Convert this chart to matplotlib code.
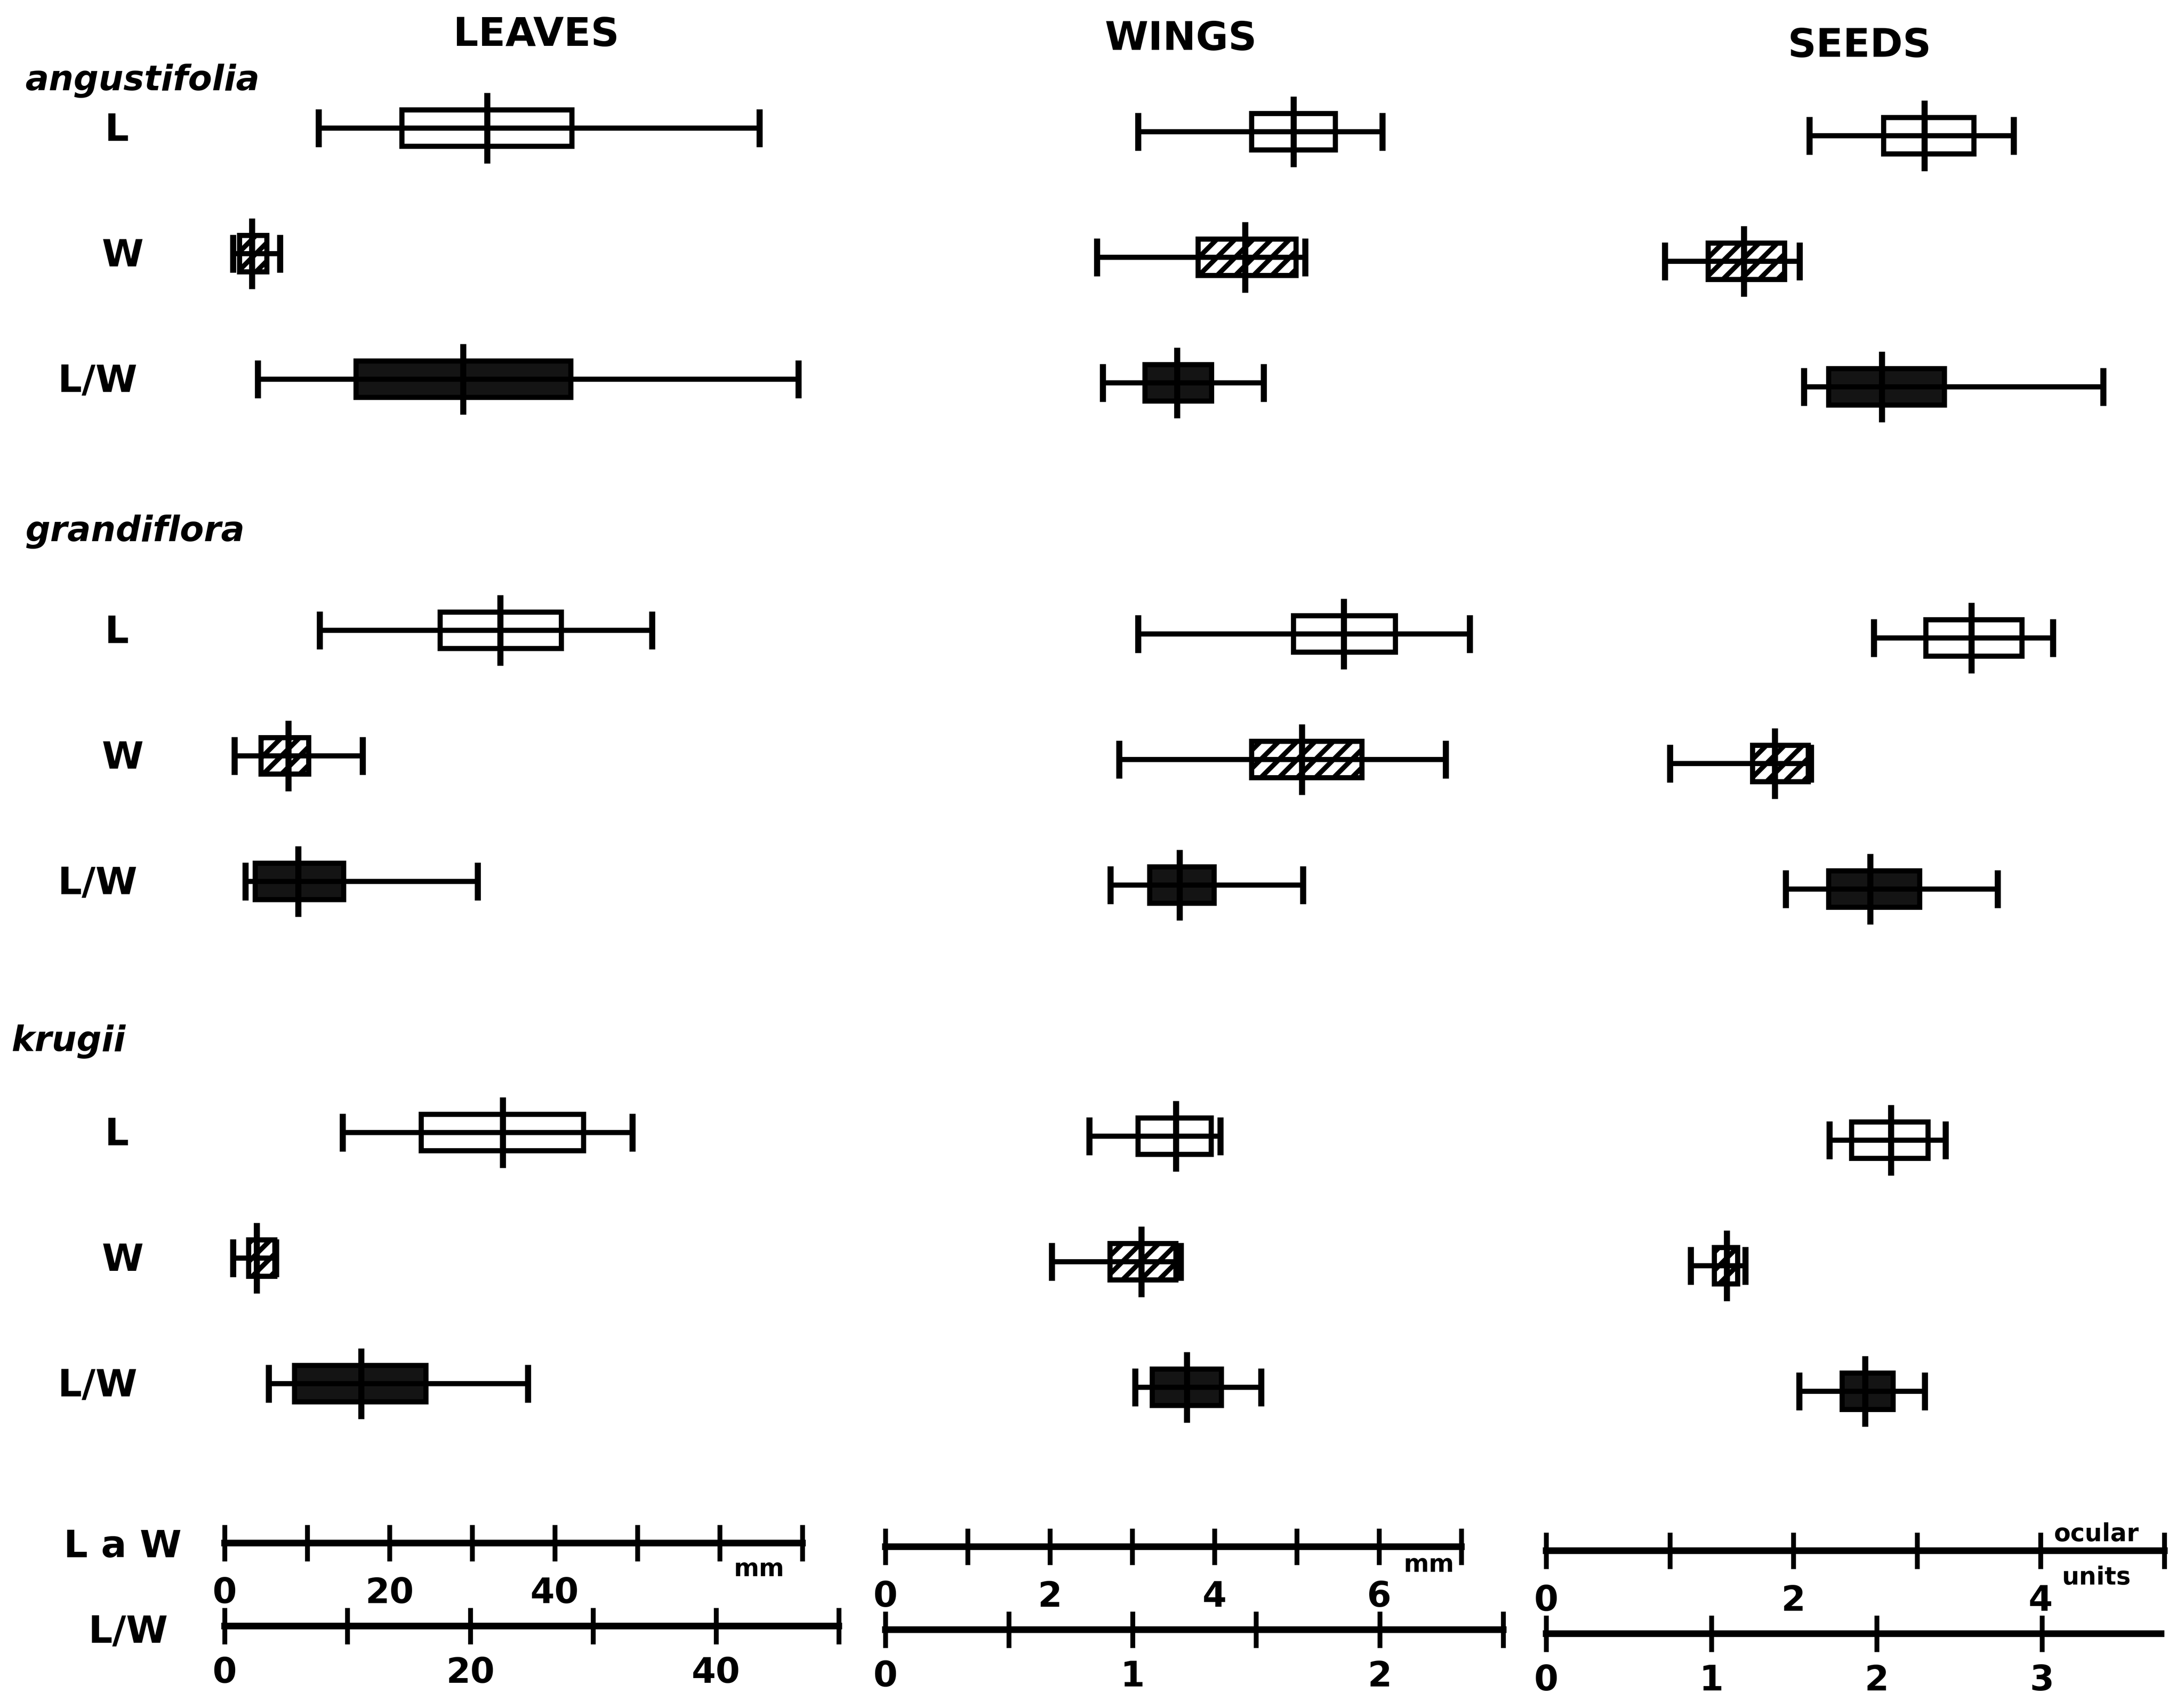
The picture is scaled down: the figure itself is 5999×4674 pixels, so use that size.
import matplotlib
matplotlib.use('Agg')
import numpy as np
import matplotlib.pyplot as plt
import matplotlib.transforms as mtransforms

plt.rcParams['font.family'] = 'DejaVu Sans'
plt.rcParams['font.weight'] = 'bold'
plt.rcParams['hatch.linewidth'] = 3.2
plt.rcParams['hatch.color'] = 'black'

# ---- data ----
species = ['angustifolia', 'grandiflora', 'krugii']
measures = ['L', 'W', 'L/W']
organs = ['LEAVES', 'WINGS', 'SEEDS']

# rows: angustifolia L, W, L/W, grandiflora L, W, L/W, krugii L, W, L/W
# L and W in mm (seeds in ocular units), L/W as ratio
leaves_min  = [11.4, 1.0, 2.7, 11.5, 1.2, 1.7, 14.3, 1.0, 3.6]
leaves_q1   = [21.5, 1.8, 10.7, 26.1, 4.4, 2.5, 23.8, 2.9, 5.7]
leaves_mean = [31.8, 3.3, 19.4, 33.4, 7.7, 6.0, 33.7, 3.9, 11.1]
leaves_q3   = [42.1, 5.1, 28.2, 40.8, 10.2, 9.7, 43.5, 6.1, 16.4]
leaves_max  = [64.8, 6.7, 46.7, 51.8, 16.7, 20.6, 49.4, 6.2, 24.7]

wings_min  = [3.07, 2.57, 0.88, 3.07, 2.84, 0.91, 2.48, 2.02, 1.01]
wings_q1   = [4.45, 3.80, 1.05, 4.96, 4.45, 1.07, 3.07, 2.73, 1.08]
wings_mean = [4.96, 4.37, 1.18, 5.57, 5.06, 1.19, 3.53, 3.11, 1.22]
wings_q3   = [5.47, 4.99, 1.32, 6.20, 5.79, 1.33, 3.96, 3.53, 1.36]
wings_max  = [6.04, 5.10, 1.53, 7.10, 6.81, 1.69, 4.07, 3.59, 1.52]

seeds_min  = [2.13, 0.96, 1.56, 2.65, 1.00, 1.45, 2.29, 1.17, 1.53]
seeds_q1   = [2.73, 1.31, 1.71, 3.07, 1.67, 1.71, 2.47, 1.36, 1.79]
seeds_mean = [3.06, 1.60, 2.03, 3.44, 1.85, 1.96, 2.79, 1.46, 1.93]
seeds_q3   = [3.46, 1.93, 2.41, 3.85, 2.12, 2.26, 3.09, 1.55, 2.10]
seeds_max  = [3.78, 2.05, 3.37, 4.10, 2.14, 2.73, 3.23, 1.61, 2.29]

# scale bars
leaves_lw_ticks = [0, 10, 20, 30, 40, 50, 60, 70]
leaves_lw_labels = ['0', '', '20', '', '40', '', '', '']
leaves_r_ticks = [0, 10, 20, 30, 40, 50]
leaves_r_labels = ['0', '', '20', '', '40', '']
wings_lw_ticks = [0, 1, 2, 3, 4, 5, 6, 7]
wings_lw_labels = ['0', '', '2', '', '4', '', '6', '']
wings_r_ticks = [0, 0.5, 1, 1.5, 2, 2.5]
wings_r_labels = ['0', '', '1', '', '2', '']
seeds_lw_ticks = [0, 1, 2, 3, 4, 5]
seeds_lw_labels = ['0', '', '2', '', '4', '']
seeds_r_ticks = [0, 1, 2, 3]
seeds_r_labels = ['0', '1', '2', '3']

# ---- layout (pixels of the 5999 x 4674 output) ----
W_PX, H_PX, DPI = 5999, 4674, 300
ROW0, ROW_STEP = 352, 345          # y of first row, distance between rows
Y_SCALE_LW, Y_SCALE_R = 11.27, 11.93
BOX_H, CAP_H, MEAN_H = 0.29, 0.30, 0.56
LW = 3.4

columns = [
    dict(lw=(617, 2204, 70), r=(617, 2304, 50), dy=0,
         data=(leaves_min, leaves_q1, leaves_mean, leaves_q3, leaves_max),
         lw_t=(leaves_lw_ticks, leaves_lw_labels), r_t=(leaves_r_ticks, leaves_r_labels)),
    dict(lw=(2432, 4014, 7), r=(2432, 4129, 2.5), dy=10,
         data=(wings_min, wings_q1, wings_mean, wings_q3, wings_max),
         lw_t=(wings_lw_ticks, wings_lw_labels), r_t=(wings_r_ticks, wings_r_labels)),
    dict(lw=(4247, 5945, 5), r=(4247, 5936, 3.72), dy=21,
         data=(seeds_min, seeds_q1, seeds_mean, seeds_q3, seeds_max),
         lw_t=(seeds_lw_ticks, seeds_lw_labels), r_t=(seeds_r_ticks, seeds_r_labels)),
]

styles = {
    'L': dict(facecolor='white', hatch=None),
    'W': dict(facecolor='white', hatch='//'),
    'L/W': dict(facecolor='#141414', hatch=None),
}

fig = plt.figure(figsize=(W_PX / DPI, H_PX / DPI), dpi=DPI)
fig.patch.set_facecolor('white')


def make_axes(x0, x1, dy):
    ax = fig.add_axes([x0 / W_PX, 0, (x1 - x0) / W_PX, 1])
    ax.patch.set_visible(False)
    ax.set_ylim((H_PX - ROW0 - dy) / ROW_STEP, -(ROW0 + dy) / ROW_STEP)
    for s in ['top', 'left', 'right']:
        ax.spines[s].set_visible(False)
    ax.yaxis.set_visible(False)
    return ax


def style_scale(ax, y, ticks, labels, xmax, pad):
    ax.spines['bottom'].set_position(('data', y))
    ax.spines['bottom'].set_linewidth(4.4)
    ax.set_xticks(ticks, labels)
    ax.tick_params(axis='x', direction='inout', length=24, width=3.2,
                   pad=pad, labelsize=23)
    ax.set_xlim(0, xmax)


def draw_box(ax, y, lo, q1, mean, q3, hi, st):
    ax.barh(y, q3 - q1, left=q1, height=BOX_H, facecolor=st['facecolor'],
            edgecolor='black', linewidth=LW, hatch=st['hatch'], zorder=2, clip_on=False)
    ax.hlines(y, lo, hi, color='black', lw=LW, zorder=3, clip_on=False)
    ax.vlines([lo, hi], y - CAP_H / 2, y + CAP_H / 2, color='black', lw=LW + 0.6,
              zorder=3, clip_on=False)
    ax.vlines(mean, y - MEAN_H / 2, y + MEAN_H / 2, color='black', lw=LW + 0.6,
              zorder=3, clip_on=False)


axes_cols = []
for col in columns:
    ax_lw = make_axes(*col['lw'][:2], col['dy'])
    ax_r = make_axes(*col['r'][:2], col['dy'])
    style_scale(ax_lw, Y_SCALE_LW, *col['lw_t'], col['lw'][2], pad=10)
    style_scale(ax_r, Y_SCALE_R, *col['r_t'], col['r'][2], pad=8)
    mins, q1s, means, q3s, maxs = col['data']
    for i in range(len(mins)):
        s, m = divmod(i, 3)
        y = 4 * s + m
        ax = ax_r if measures[m] == 'L/W' else ax_lw
        draw_box(ax, y, mins[i], q1s[i], means[i], q3s[i], maxs[i], styles[measures[m]])
    axes_cols.append((ax_lw, ax_r))

# ---- text ----
def fx(px):
    return px / W_PX


def fy(py):
    return 1 - py / H_PX


header_pos = [(1473, 96), (3244, 107), (5108, 126)]
for name, (x, y) in zip(organs, header_pos):
    fig.text(fx(x), fy(y), name, ha='center', va='center', fontsize=26, fontweight='bold')

species_pos = [(69, 222), (69, 1461), (31, 2862)]
for name, (x, y) in zip(species, species_pos):
    fig.text(fx(x), fy(y), name, ha='left', va='center', fontsize=23,
             fontweight='bold', style='italic')

ax0 = axes_cols[0][0]
trans = mtransforms.blended_transform_factory(fig.transFigure, ax0.transData)
label_x = {'L': 321, 'W': 337, 'L/W': 268}
for s in range(3):
    for m, meas in enumerate(measures):
        ax0.text(fx(label_x[meas]), 4 * s + m + 0.02, meas, transform=trans,
                 ha='center', va='center', fontsize=25, fontweight='bold')

ax0.text(fx(337), Y_SCALE_LW + 0.03, 'L a W', transform=trans, ha='center', va='center',
         fontsize=25, fontweight='bold')
ax0.text(fx(352), Y_SCALE_R + 0.05, 'L/W', transform=trans, ha='center', va='center',
         fontsize=25, fontweight='bold')

fig.text(fx(2085), fy(4312), 'mm', ha='center', va='center', fontsize=16)
fig.text(fx(3925), fy(4300), 'mm', ha='center', va='center', fontsize=16)
fig.text(fx(5758), fy(4216), 'ocular', ha='center', va='center', fontsize=16)
fig.text(fx(5758), fy(4335), 'units', ha='center', va='center', fontsize=16)

fig.savefig('out.png', dpi=DPI, facecolor='white')
